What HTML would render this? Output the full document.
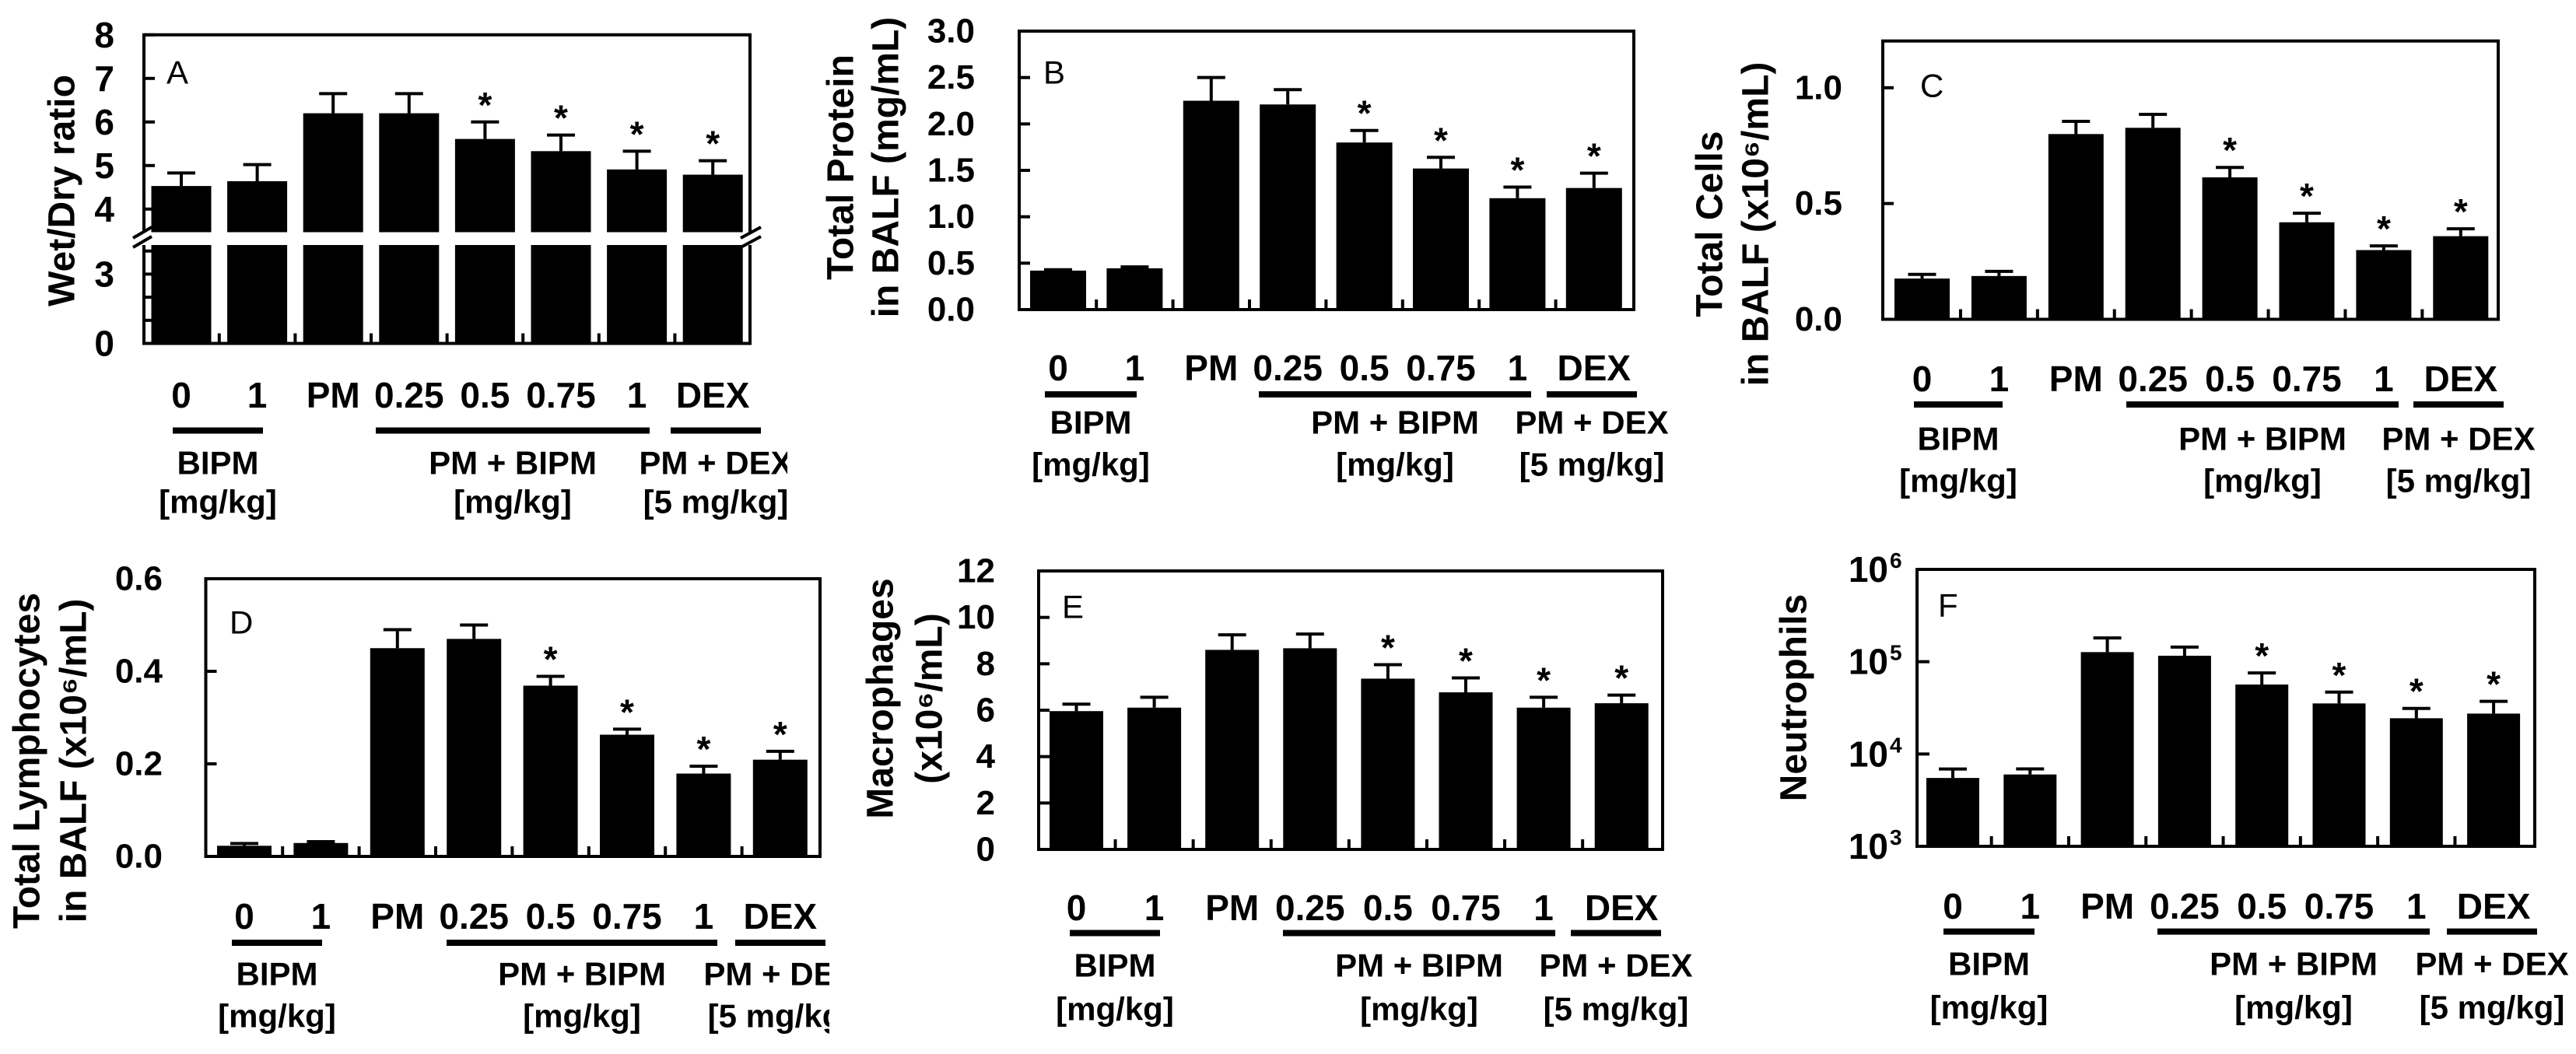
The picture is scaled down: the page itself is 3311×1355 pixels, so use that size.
<!DOCTYPE html>
<html><head><meta charset="utf-8">
<style>
html,body{margin:0;padding:0;background:#fff;}
svg{display:block;font-family:"Liberation Sans",Arial,sans-serif;}
</style></head>
<body>
<svg id="fig" width="3311" height="1355" viewBox="0 0 3311 1355"></svg>
<script>
const categories = ['0','1','PM','0.25','0.5','0.75','1','DEX'];
const starred = [0,0,0,0,1,1,1,1];
const wetDryMean = [4.53,4.64,6.2,6.2,5.61,5.33,4.91,4.79];
const wetDrySem  = [0.30,0.38,0.45,0.45,0.39,0.37,0.42,0.32];
const proteinMean = [0.42,0.445,2.25,2.21,1.80,1.52,1.20,1.31];
const proteinSem  = [0.01,0.015,0.25,0.16,0.13,0.12,0.12,0.16];
const cellsMean = [0.176,0.187,0.80,0.827,0.613,0.419,0.299,0.359];
const cellsSem  = [0.018,0.02,0.055,0.058,0.043,0.039,0.018,0.032];
const lymphMean = [0.023,0.029,0.45,0.47,0.369,0.263,0.179,0.209];
const lymphSem  = [0.005,0.003,0.04,0.03,0.02,0.012,0.016,0.018];
const macroMean = [5.96,6.11,8.6,8.67,7.36,6.77,6.11,6.3];
const macroSem  = [0.3,0.45,0.65,0.61,0.6,0.62,0.45,0.35];
const neutroMean = [5500,6000,127000,116000,56600,35300,24400,27400];
const neutroSem  = [1370,900,54000,28000,18900,11500,6800,9800];
const ticksA_upper = [8,7,6,5,4];
const ticksA_lower = [0,1,2,3,4];
const ticksA_lowerLabels = ['0','','','3',''];
const ticksB = [0,0.5,1.0,1.5,2.0,2.5,3.0];
const ticksBLabels = ['0.0','0.5','1.0','1.5','2.0','2.5','3.0'];
const ticksC = [0,0.5,1.0];
const ticksCLabels = ['0.0','0.5','1.0'];
const ticksD = [0,0.2,0.4,0.6];
const ticksDLabels = ['0.0','0.2','0.4','0.6'];
const ticksE = [0,2,4,6,8,10,12];
const ticksELabels = ['0','2','4','6','8','10','12'];
const ticksFExp = [3,4,5,6];

const NS='http://www.w3.org/2000/svg';
const svg=document.getElementById('fig');
function mk(tag,attrs,parent){const e=document.createElementNS(NS,tag);for(const k in attrs)e.setAttribute(k,attrs[k]);parent.appendChild(e);return e;}
const defs=mk('defs',{},svg);

const panels=[
 {id:'a',box:[185,44.8,964,441.5],bx0:194.5,step:97.6,bw:77,broken:true,
  y:v=>44.8+(8-v)*56, yl:v=>441.5-v*29.7,
  mean:wetDryMean,sem:wetDrySem,
  rows:[508,553.5,595,645],ul:[[222,338],[483,835],[862,978]],clip:1012,
  letter:['A',214,93],tickRight:147,
  titles:[['Wet/Dry ratio',80]],tcy:245},
 {id:'b',box:[1310,40,2100,398],bx0:1324,step:98.4,bw:72,
  y:v=>398-v*119.33, mean:proteinMean,sem:proteinSem,
  ticks:ticksB,tickLabels:ticksBLabels,
  rows:[473,507,543,597],ul:[[1343,1461],[1618,1968],[1988,2104]],clip:3311,
  letter:['B',1341,93],tickRight:1253,
  titles:[['Total Protein',1081],['in BALF (mg/mL)',1139]],tcy:215},
 {id:'c',box:[2420,52.7,3211,410.5],bx0:2435,step:98.9,bw:71,
  y:v=>410.5-v*297.7, mean:cellsMean,sem:cellsSem,
  ticks:ticksC,tickLabels:ticksCLabels,
  rows:[487,520,564,618],ul:[[2460,2574],[2733,3083],[3102,3218]],clip:3311,
  letter:['C',2468,110],tickRight:2368,
  titles:[['Total Cells',2198],['in BALF (x10\u2076/mL)',2257]],tcy:288},
 {id:'d',box:[264.5,744,1054,1101],bx0:279,step:98.4,bw:70,
  y:v=>1101-v*595, mean:lymphMean,sem:lymphSem,
  ticks:ticksD,tickLabels:ticksDLabels,
  rows:[1178,1212,1252,1306],ul:[[298,414],[574,922],[945,1061]],clip:1066,
  letter:['D',295,800],tickRight:209,
  titles:[['Total Lymphocytes',35],['in BALF (x10\u2076/mL)',95]],tcy:978},
 {id:'e',box:[1335,734,2137,1092],bx0:1349,step:100.1,bw:69,
  y:v=>1092-v*29.83, mean:macroMean,sem:macroSem,
  ticks:ticksE,tickLabels:ticksELabels,
  rows:[1167,1199.5,1241,1297],ul:[[1375,1491],[1649,1999],[2019,2135]],clip:3311,
  letter:['E',1365,780],tickRight:1279,
  titles:[['Macrophages',1132],['(x10\u2076/mL)',1195]],tcy:898},
 {id:'f',box:[2464,732,3258,1088],bx0:2476,step:99.3,bw:68,log:true,
  y:v=>1088-(Math.log10(v)-3)*118.67, mean:neutroMean,sem:neutroSem,
  rows:[1165,1197.6,1239,1295],ul:[[2498,2615],[2773,3123],[3145,3261]],clip:3311,
  letter:['F',2491,778],tickRight:2427,
  titles:[['Neutrophils',2306]],tcy:897}
];

panels.forEach(p=>{
  const cp=mk('clipPath',{id:'clip-'+p.id},defs);
  mk('rect',{x:0,y:0,width:p.clip,height:1355},cp);
  const g=mk('g',{'clip-path':'url(#clip-'+p.id+')'},svg);
  
  
  const [L,T,R,B]=p.box;
  // bars
  p.mean.forEach((m,i)=>{
    const x=p.bx0+i*p.step, cx=x+p.bw/2;
    let yTop=p.y(m);
    if(p.broken){
      const r1=mk('rect',{x:x,y:yTop,width:p.bw,height:298.5-yTop,fill:'#000'},g);
      
      
      const r2=mk('rect',{x:x,y:315,width:p.bw,height:B-315,fill:'#000'},g);
      
      
    } else {
      const r=mk('rect',{x:x,y:yTop,width:p.bw,height:B-yTop,fill:'#000'},g);
      
      
    }
    const eTop=p.y(m+p.sem[i]);
    const eb=mk('path',{d:`M${cx},${yTop}V${eTop}M${cx-18},${eTop}H${cx+18}`,stroke:'#000','stroke-width':4,fill:'none'},g);
    
    
    if(starred[i]){
      const s=mk('text',{x:cx,y:eTop-22,'text-anchor':'middle','dominant-baseline':'central','font-size':46,'font-weight':'bold'},g);
      s.textContent='*';
      
      
    }
    // category label
    const t=mk('text',{x:cx,y:p.rows[0],'text-anchor':'middle','dominant-baseline':'central','font-size':46,'font-weight':'bold'},g);
    t.textContent=categories[i];
    
    
    // bottom minor tick between bars
    if(i>0){
      const mx=x-(p.step-p.bw)/2;
      const mt=mk('line',{x1:mx,y1:B,x2:mx,y2:B-13,stroke:'#000','stroke-width':4},g);
      
      
    }
  });
  // frame
  if(p.broken){
    const fr=mk('path',{d:`M${L},298.5V${T}H${R}V298.5M${L},315V${B}H${R}V315`,stroke:'#000','stroke-width':4,fill:'none'},g);
    
    
    const bk=mk('path',{d:`M${L-14},306L${L+10},292M${L-14},318L${L+10},304M${R-12},306L${R+14},292M${R-12},318L${R+14},304`,stroke:'#000','stroke-width':4,fill:'none'},g);
    
    
    ticksA_upper.forEach(v=>{
      const yy=p.y(v);
      const tk=mk('line',{x1:L,y1:yy,x2:L+14,y2:yy,stroke:'#000','stroke-width':4},g);
      
      
      const tl=mk('text',{x:p.tickRight,y:yy,'text-anchor':'end','dominant-baseline':'central','font-size':46,'font-weight':'bold'},g);
      tl.textContent=String(v);
      
      
    });
    ticksA_lower.forEach((v,k)=>{
      const yy=p.yl(v);
      const tk=mk('line',{x1:L,y1:yy,x2:L+10,y2:yy,stroke:'#000','stroke-width':4},g);
      
      
      if(ticksA_lowerLabels[k]){
        const tl=mk('text',{x:p.tickRight,y:yy,'text-anchor':'end','dominant-baseline':'central','font-size':46,'font-weight':'bold'},g);
        tl.textContent=ticksA_lowerLabels[k];
        
        
      }
    });
  } else {
    const fr=mk('rect',{x:L,y:T,width:R-L,height:B-T,stroke:'#000','stroke-width':4,fill:'none'},g);
    
    
    if(p.log){
      ticksFExp.forEach(ex=>{
        const yy=p.y(Math.pow(10,ex));
        const tk=mk('line',{x1:L,y1:yy,x2:L+16,y2:yy,stroke:'#000','stroke-width':4},g);
        
        
        const tl=mk('text',{x:p.tickRight,y:yy+16,'text-anchor':'end','font-size':46,'font-weight':'bold'},g);
        tl.textContent='10';
        
        
        const se=mk('text',{x:p.tickRight+2,y:yy-2,'text-anchor':'start','font-size':28,'font-weight':'bold'},g);
        se.textContent=String(ex);
        
        
      });
    } else {
      p.ticks.forEach((v,k)=>{
        const yy=p.y(v);
        const tk=mk('line',{x1:L,y1:yy,x2:L+14,y2:yy,stroke:'#000','stroke-width':4},g);
        
        
        const tl=mk('text',{x:p.tickRight,y:yy,'text-anchor':'end','dominant-baseline':'central','font-size':44,'font-weight':'bold'},g);
        tl.textContent=p.tickLabels[k];
        
        
      });
    }
  }
  // panel letter
  const lt=mk('text',{x:p.letter[1],y:p.letter[2],'dominant-baseline':'central','font-size':42},g);
  lt.textContent=p.letter[0];
  
  
  // group underlines and labels
  const groupNames=['BIPM','PM + BIPM','PM + DEX'];
  const groupUnits=['[mg/kg]','[mg/kg]','[5 mg/kg]'];
  p.ul.forEach((u,k)=>{
    const ln=mk('rect',{x:u[0],y:p.rows[1]-4,width:u[1]-u[0],height:8,fill:'#000'},g);
    
    
    const c=(u[0]+u[1])/2;
    const gl=mk('text',{x:c,y:p.rows[2],'text-anchor':'middle','dominant-baseline':'central','font-size':42,'font-weight':'bold'},g);
    gl.textContent=groupNames[k];
    
    
    const gu=mk('text',{x:c,y:p.rows[3],'text-anchor':'middle','dominant-baseline':'central','font-size':42,'font-weight':'bold'},g);
    gu.textContent=groupUnits[k];
    
    
  });
  // y titles
  p.titles.forEach(tt=>{
    const yt=mk('text',{x:tt[1],y:p.tcy,'text-anchor':'middle','dominant-baseline':'central','font-size':48,'font-weight':'bold',transform:`rotate(-90 ${tt[1]} ${p.tcy})`},g);
    yt.textContent=tt[0];
    
    
  });
});
</script>
</body></html>
